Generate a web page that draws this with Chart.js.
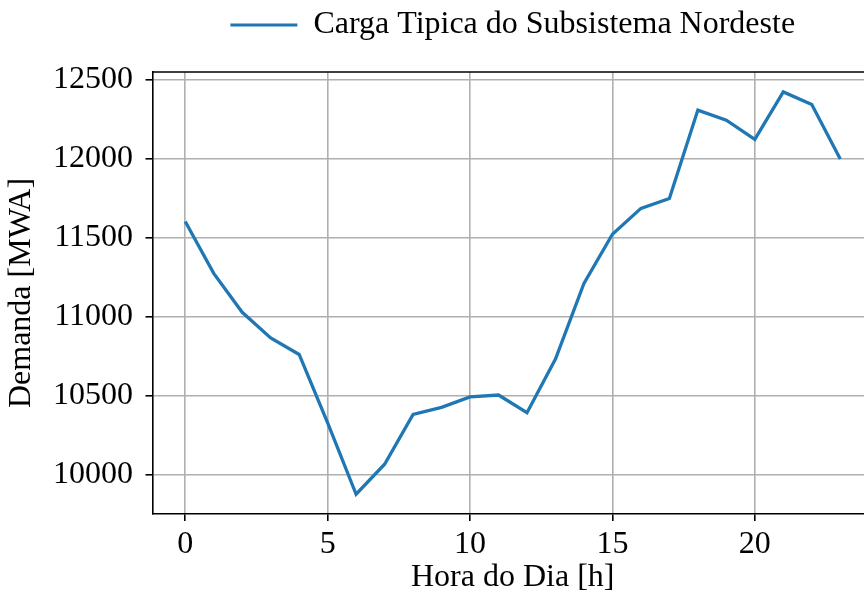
<!DOCTYPE html>
<html>
<head>
<meta charset="utf-8">
<script src="https://cdn.jsdelivr.net/npm/chart.js@4.4.1/dist/chart.umd.min.js"></script>
<style>
  html, body { margin: 0; padding: 0; background: #fff; width: 864px; height: 601px; overflow: hidden; }
  #chart { position: absolute; left: 0; top: 0; }
</style>
</head>
<body>
<canvas id="chart" width="880" height="601"></canvas>
<script>
// data
const hours = [0, 1, 2, 3, 4, 5, 6, 7, 8, 9, 10, 11, 12, 13, 14, 15, 16, 17, 18, 19, 20, 21, 22, 23];
const demand = [11605, 11276, 11030, 10868, 10763, 10330, 9878, 10068, 10384, 10428, 10494, 10506,
                10394, 10734, 11212, 11524, 11688, 11750, 12310, 12246, 12124, 12425, 12345, 12000];
const xTicks = [0, 5, 10, 15, 20];
const yTicks = [10000, 10500, 11000, 11500, 12000, 12500];
const seriesLabel = 'Carga Tipica do Subsistema Nordeste';

const serif = "'Liberation Serif', 'Times New Roman', serif";
const gridColor = '#b0b0b0';

// matplotlib-style box: top spine (the right one falls outside the window)
const spines = {
    id: 'spines',
    afterDraw(chart) {
        const { ctx, chartArea: a } = chart;
        ctx.save();
        ctx.strokeStyle = '#000';
        ctx.lineWidth = 1.6;
        ctx.beginPath();
        ctx.moveTo(a.left, a.top);
        ctx.lineTo(a.right, a.top);
        ctx.lineTo(a.right, a.bottom);
        ctx.stroke();
        ctx.restore();
    }
};

const ctx = document.getElementById('chart').getContext('2d');
new Chart(ctx, {
    type: 'line',
    data: {
        datasets: [{
            label: seriesLabel,
            data: hours.map((h, i) => ({ x: h, y: demand[i] })),
            borderColor: '#1f77b4',
            backgroundColor: '#1f77b4',
            borderWidth: 3.3,
            pointRadius: 0,
            tension: 0,
            fill: false
        }]
    },
    options: {
        responsive: false,
        animation: false,
        devicePixelRatio: 1,
        layout: { padding: { left: 0, right: 7, top: 0, bottom: 4 } },
        plugins: {
            tooltip: { enabled: false },
            legend: {
                position: 'top',
                fullSize: false,
                weight: 3000,
                labels: {
                    font: { family: serif, size: 32 },
                    color: '#000',
                    boxWidth: 67,
                    boxHeight: 3,
                    padding: 9,
                    generateLabels: (chart) => Chart.defaults.plugins.legend.labels.generateLabels(chart)
                        .map(l => Object.assign(l, { lineWidth: 0 }))
                }
            },
            // empty title used as a spacer between the legend and the axes
            title: {
                display: true,
                text: ' ',
                weight: 500,
                fullSize: false,
                font: { size: 1, lineHeight: 1 },
                padding: { top: 0, bottom: 20 }
            }
        },
        scales: {
            x: {
                type: 'linear',
                min: -1.15,
                max: 24.15,
                afterBuildTicks: s => { s.ticks = xTicks.map(v => ({ value: v })); },
                grid: { color: gridColor, lineWidth: 1.6, tickLength: 7, tickColor: '#000', tickWidth: 1.6 },
                border: { display: true, color: '#000', width: 1.6 },
                ticks: {
                    font: { family: serif, size: 32, lineHeight: 1 }, color: '#000', padding: 7.8,
                    callback: v => String(v)
                },
                title: {
                    display: true,
                    text: 'Hora do Dia [h]',
                    font: { family: serif, size: 32, lineHeight: 0.55 },
                    color: '#000',
                    padding: { top: 0, bottom: 10.8 }
                }
            },
            y: {
                type: 'linear',
                min: 9753,
                max: 12551,
                afterBuildTicks: s => { s.ticks = yTicks.map(v => ({ value: v })); },
                grid: { color: gridColor, lineWidth: 1.6, tickLength: 7, tickColor: '#000', tickWidth: 1.6 },
                border: { display: true, color: '#000', width: 1.6 },
                ticks: {
                    font: { family: serif, size: 32, lineHeight: 1 }, color: '#000', padding: 12.5,
                    callback: v => String(v)
                },
                title: {
                    display: true,
                    text: 'Demanda [MWA]',
                    font: { family: serif, size: 32, lineHeight: 1 },
                    color: '#000',
                    padding: { top: 6, bottom: 2.5 }
                }
            }
        }
    },
    plugins: [spines]
});
</script>
</body>
</html>
